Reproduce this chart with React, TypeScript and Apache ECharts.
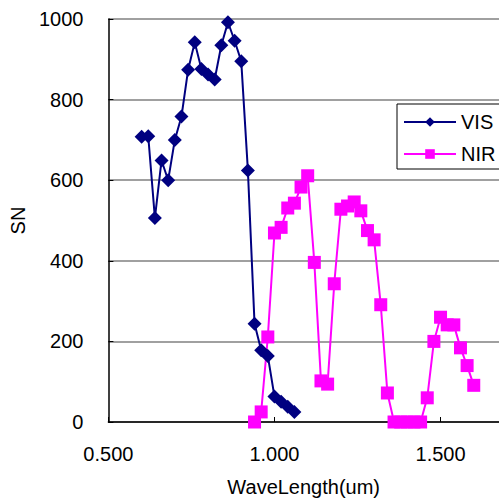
import React, { useEffect, useRef } from "react";
import * as echarts from "echarts";

const visX = [0.60, 0.62, 0.64, 0.66, 0.68, 0.70, 0.72, 0.74, 0.76, 0.78, 0.80, 0.82, 0.84, 0.86, 0.88, 0.90, 0.92, 0.94, 0.96, 0.98, 1.00, 1.02, 1.04, 1.06];
const visY = [708, 709, 506, 649, 600, 700, 758, 874, 942, 876, 862, 850, 935, 992, 946, 895, 624, 244, 178, 164, 63, 50, 38, 25];

const nirX = [0.94, 0.96, 0.98, 1.00, 1.02, 1.04, 1.06, 1.08, 1.10, 1.12, 1.14, 1.16, 1.18, 1.20, 1.22, 1.24, 1.26, 1.28, 1.30, 1.32, 1.34, 1.36, 1.38, 1.40, 1.42, 1.44, 1.46, 1.48, 1.50, 1.52, 1.54, 1.56, 1.58, 1.60];
const nirY = [0, 25, 211, 469, 483, 531, 543, 583, 611, 396, 102, 94, 343, 528, 536, 546, 524, 475, 452, 291, 72, 0, 0, 0, 0, 0, 60, 200, 260, 241, 241, 184, 140, 91];

const seriesNames = ["VIS", "NIR"];
const xTitle = "WaveLength(um)";
const yTitle = "SN";

export default function App() {
  const ref = useRef<HTMLDivElement>(null);
  useEffect(() => {
    document.body.style.margin = "0";
    const chart = echarts.init(ref.current!, null, { renderer: "svg" });
    const font = "Liberation Sans, Arial, sans-serif";
    chart.setOption({
      animation: false,
      backgroundColor: "#ffffff",
      textStyle: { fontFamily: font },
      grid: { left: 107, top: 19, bottom: 79, right: 0 },
      legend: {
        orient: "vertical",
        left: 397,
        top: 104,
        data: seriesNames,
        itemWidth: 52,
        itemHeight: 12,
        itemGap: 12,
        padding: [8, 30, 5, 6],
        borderColor: "#000",
        borderWidth: 1,
        borderRadius: 0,
        backgroundColor: "#fff",
        textStyle: { fontSize: 20, color: "#000", fontFamily: font },
      },
      xAxis: {
        type: "value",
        min: 0.5,
        max: 1.676,
        interval: 0.5,
        name: xTitle,
        nameLocation: "middle",
        nameGap: 55,
        nameTextStyle: { fontSize: 20, color: "#000", fontFamily: font },
        axisLine: { show: true, lineStyle: { color: "#000", width: 1.5 } },
        axisTick: { show: true, inside: true, length: 5, lineStyle: { color: "#000" } },
        axisLabel: {
          fontSize: 20,
          color: "#000",
          margin: 22,
          showMaxLabel: false,
          formatter: (v: number) => v.toFixed(3),
        },
        splitLine: { show: false },
      },
      yAxis: {
        type: "value",
        min: 0,
        max: 1000,
        interval: 200,
        name: yTitle,
        nameLocation: "middle",
        nameGap: 67,
        nameTextStyle: { fontSize: 20, color: "#000", fontFamily: font },
        axisLine: { show: true, lineStyle: { color: "#000", width: 1.5 } },
        axisTick: { show: true, inside: true, length: 5, lineStyle: { color: "#000" } },
        axisLabel: { fontSize: 20, color: "#000", margin: 25, formatter: (v: number) => String(v) },
        splitLine: { show: true, lineStyle: { color: "#808080", width: 1.5 } },
      },
      series: [
        {
          name: seriesNames[0],
          type: "line",
          data: visX.map((x, i) => [x, visY[i]]),
          symbol: "diamond",
          symbolSize: 14,
          color: "#000080",
          lineStyle: { color: "#000080", width: 2 },
          itemStyle: { color: "#000080" },
        },
        {
          name: seriesNames[1],
          type: "line",
          data: nirX.map((x, i) => [x, nirY[i]]),
          symbol: "rect",
          symbolSize: 13,
          color: "#ff00ff",
          lineStyle: { color: "#ff00ff", width: 2 },
          itemStyle: { color: "#ff00ff" },
        },
      ],
    });
    return () => chart.dispose();
  }, []);
  return <div ref={ref} style={{ width: 499, height: 502 }} />;
}
